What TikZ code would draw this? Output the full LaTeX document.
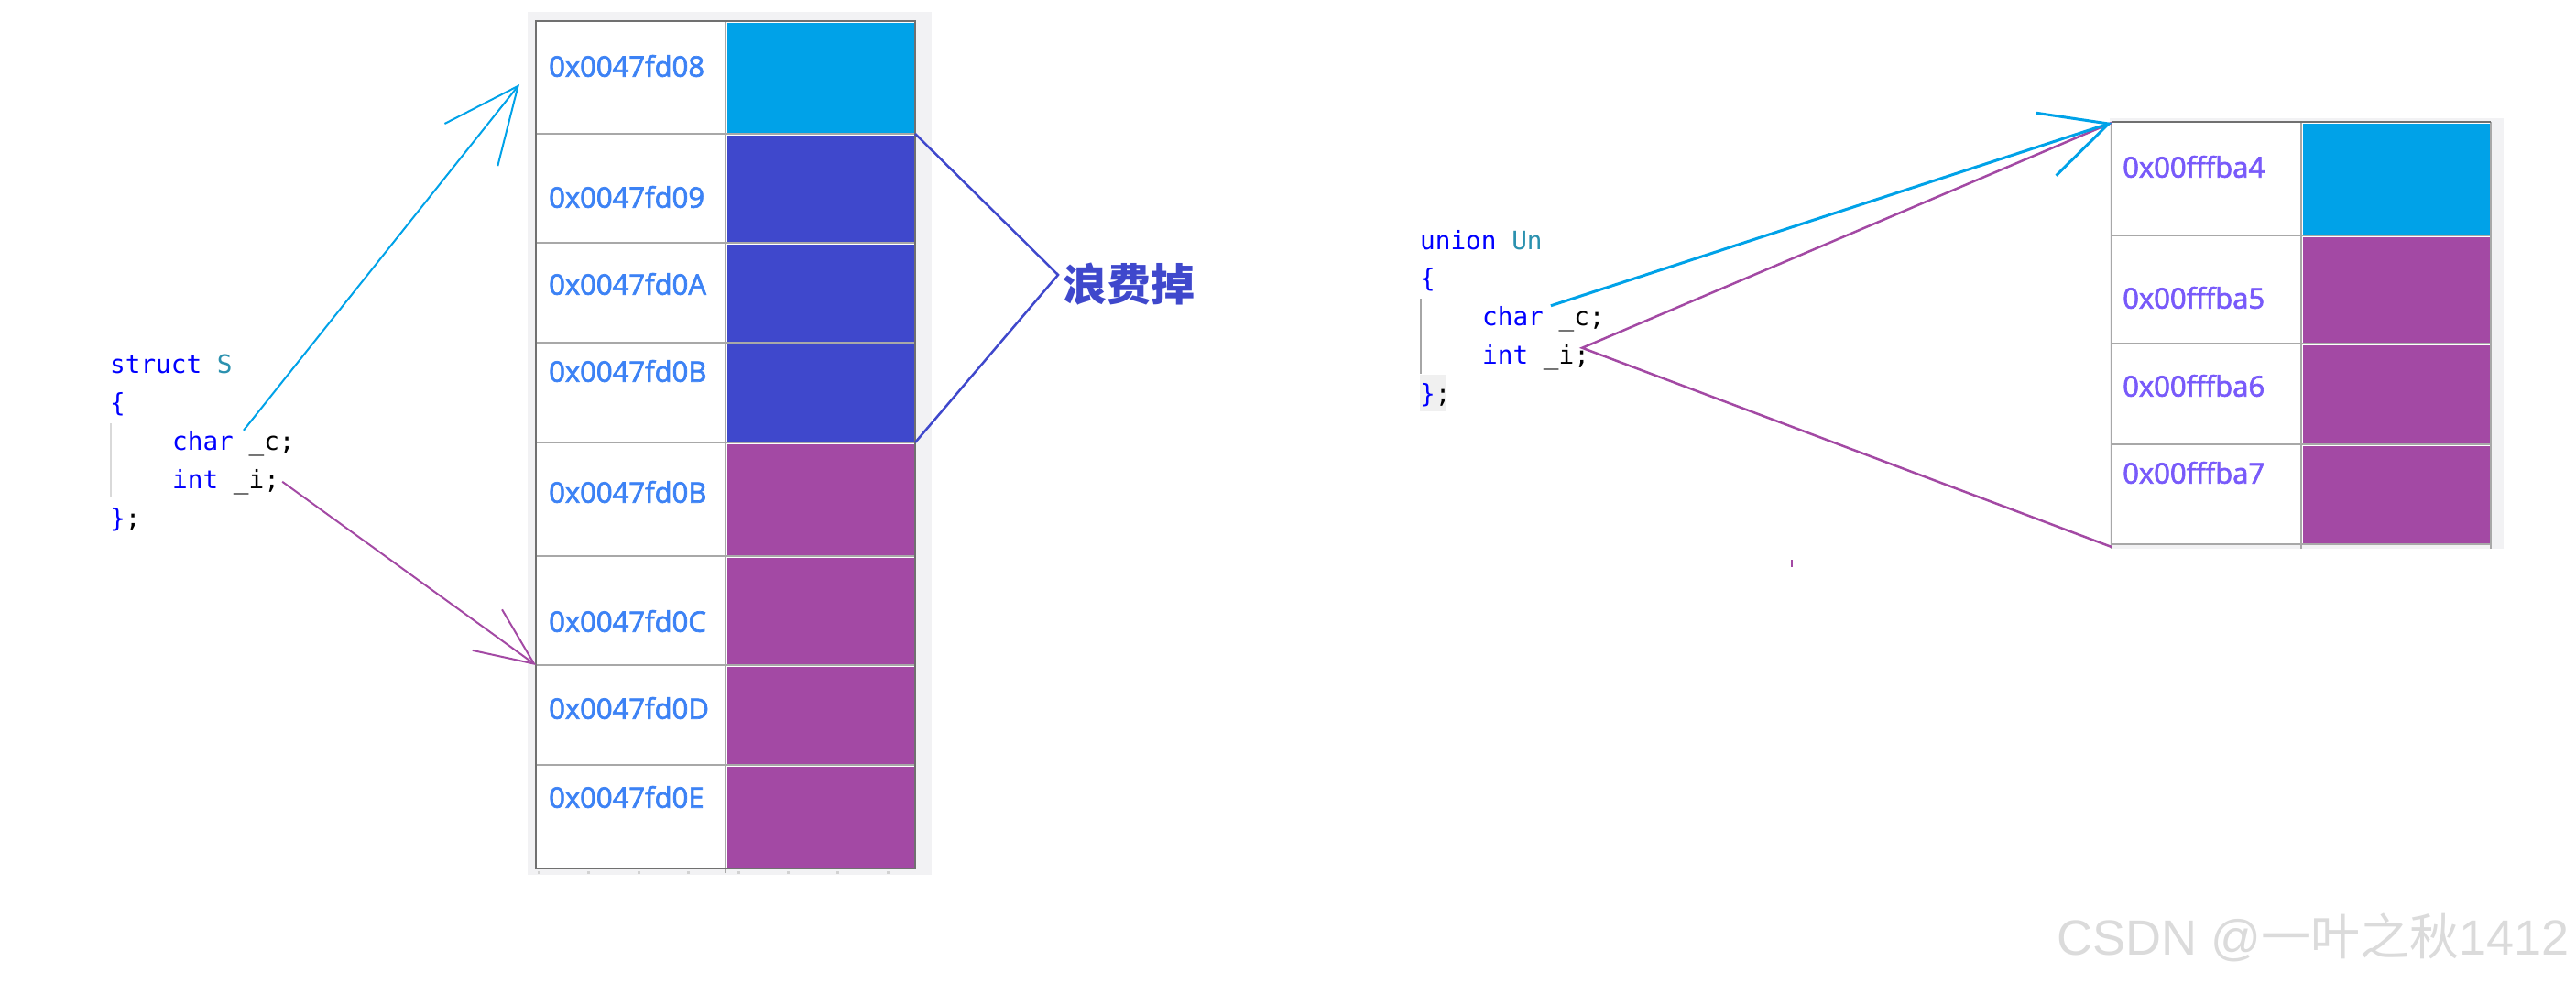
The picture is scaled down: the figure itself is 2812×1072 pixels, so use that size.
\documentclass[tikz,border=0pt]{standalone}
\usepackage{fontspec}
\setmainfont{Open Sans}
\setmonofont{DejaVu Sans Mono}
\newfontfamily\addrfont{Open Sans}[FakeBold=2.2]
\newfontfamily\cjkfont{Noto Sans CJK SC}
\newfontfamily\markfont{Liberation Sans}
\usetikzlibrary{arrows.meta}
\definecolor{cellcyan}{RGB}{0,162,232}
\definecolor{cellindigo}{RGB}{63,72,204}
\definecolor{cellpurple}{RGB}{163,73,164}
\definecolor{addrblue}{RGB}{60,130,245}
\definecolor{addrviolet}{RGB}{120,90,250}
\definecolor{kwblue}{RGB}{0,0,255}
\definecolor{typeteal}{RGB}{43,145,175}
\definecolor{panelgray}{RGB}{242,242,244}
\definecolor{linegray}{RGB}{168,168,168}
\definecolor{framegray}{RGB}{112,112,112}
\begin{document}
\begin{tikzpicture}[x=1pt,y=-1pt,
  addr/.style={anchor=west,inner sep=0pt,font=\addrfont\fontsize{31}{31}\selectfont},
  code/.style={anchor=base west,inner sep=0pt,text=kwblue,
    font=\ttfamily\fontsize{27.7}{30}\selectfont},
  rowline/.style={draw=linegray,line width=1.8pt},
  tblframe/.style={draw=framegray,line width=2pt}]
  \useasboundingbox (0,0) rectangle (2812,1072);
  \fill[white] (0,0) rectangle (2812,1072);
  % Struct code
  \draw[gray!30,line width=2pt] (121,462) -- (121,543);
  \node[code] (sname) at (120,407) {struct \textcolor{typeteal}{S}};
  \node[code] (sopen) at (120,449) {\{};
  \node[code] (schar) at (188,491) {char \textcolor{black}{\_c;}};
  \node[code] (sint) at (188,533) {int \textcolor{black}{\_i;}};
  \node[code] (sclose) at (120,575) {\}\textcolor{black}{;}};
  % Left memory panel
  \fill[panelgray] (576,13) rectangle (1017,955);
  \fill[white] (585,23) rectangle (999,948);
  \foreach \t/\b/\c in {23/146/cellcyan,146/265/cellindigo,265/374/cellindigo,
      374/483/cellindigo,483/607/cellpurple,607/726/cellpurple,
      726/835/cellpurple,835/948/cellpurple}
    \fill[\c] (794,\t+2) rectangle (998,\b-1);
  \foreach \y in {146,265,374,483,607,726,835}
    \draw[rowline] (585,\y) -- (999,\y);
  \draw[rowline] (792,23) -- (792,953);
  \draw[tblframe] (585,23) rectangle (999,948);
  \foreach \k in {0,...,7}
    \fill[gray!35] (587+\k*54.4,951) rectangle +(3,3);
  % Left addresses
  \foreach \n/\y/\a in {1/72/0x0047fd08,2/215/0x0047fd09,3/310/0x0047fd0A,
      4/405/0x0047fd0B,5/537/0x0047fd0B,6/678/0x0047fd0C,
      7/773/0x0047fd0D,8/870/0x0047fd0E}
    \node[addr,text=addrblue] (s\n) at (599,\y) {\a};
  \coordinate (s-in) at (567,92);
  \coordinate (s-int) at (585,726);
  \coordinate (s-r1) at (999,146);
  \coordinate (s-r4) at (999,483);
  % Wasted bytes
  \node[anchor=west,inner sep=0pt,text=cellindigo,
        font=\cjkfont\bfseries\fontsize{48}{48}\selectfont] (waste) at (1160,310) {浪费掉};
  \draw[cellindigo,line width=2.5pt] (s-r1) -- ([shift={(-5pt,10pt)}]waste.west) -- (s-r4);
  % Struct arrows
  \draw[cellcyan,line width=2pt,-{Straight Barb[length=82pt,width=74pt]}]
    ([xshift=11pt]schar.north) -- (s-in);
  \draw[cellpurple,line width=2pt,-{Straight Barb[length=63pt,width=55pt]}]
    ([xshift=3pt]sint.east) -- (s-int);
  % Union code
  \draw[gray!70,line width=2pt] (1551,326) -- (1551,408);
  \fill[gray!12] (1550,409) rectangle (1578,449);
  \node[code] (uname) at (1550,272) {union \textcolor{typeteal}{Un}};
  \node[code] (uopen) at (1550,313.5) {\{};
  \node[code] (uchar) at (1618,355) {char \textcolor{black}{\_c;}};
  \node[code] (uint) at (1618,397) {int \textcolor{black}{\_i;}};
  \node[code] (uclose) at (1550,439) {\}\textcolor{black}{;}};
  % Right memory panel
  \fill[panelgray] (2303,129) rectangle (2733,599);
  \fill[white] (2305,134) rectangle (2719,594);
  \foreach \t/\b/\c in {133/257/cellcyan,257/375/cellpurple,
      375/485/cellpurple,485/594/cellpurple}
    \fill[\c] (2514,\t+2) rectangle (2718,\b-1);
  \foreach \y in {257,375,485,594}
    \draw[rowline] (2305,\y) -- (2719,\y);
  \foreach \x in {2305,2512,2719}
    \draw[rowline] (\x,133) -- (\x,599);
  \draw[tblframe] (2305,133) -- (2719,133);
  % Right addresses
  \foreach \n/\y/\a in {1/182/0x00fffba4,2/325/0x00fffba5,
      3/421/0x00fffba6,4/516/0x00fffba7}
    \node[addr,text=addrviolet] (u\n) at (2317,\y) {\a};
  \coordinate (u-top) at (2305,134);
  \coordinate (u-bot) at (2305,597);
  % Union arrows
  \draw[cellpurple,line width=2.5pt]
    (u-top) -- ([xshift=-8pt,yshift=10pt]uint.east) -- (u-bot);
  \draw[cellcyan,line width=3pt,-{Straight Barb[length=72pt,width=72pt]}]
    ([xshift=8pt]uchar.north) -- (u-top);
  \draw[cellpurple,line width=1.5pt] (1956,611) -- (1956,619);
  % Watermark
  \node[anchor=base west,inner sep=0pt,text=gray!28,
        font=\markfont\fontsize{54}{54}\selectfont] (mark) at (2245,1042)
    {CSDN @{\cjkfont 一叶之秋}1412};
\end{tikzpicture}
\end{document}
